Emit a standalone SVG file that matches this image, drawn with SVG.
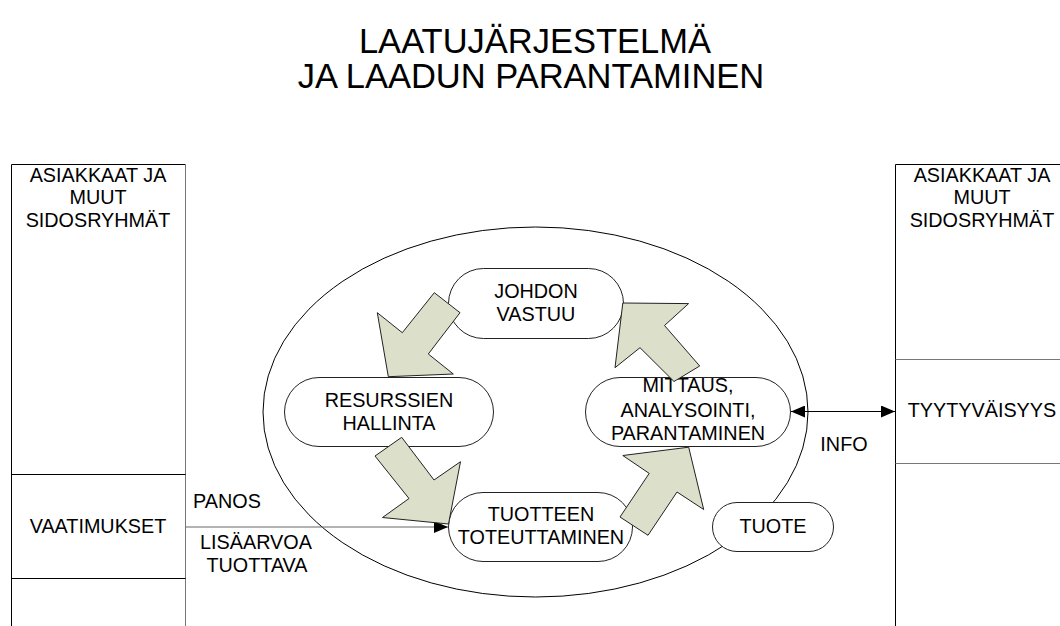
<svg xmlns="http://www.w3.org/2000/svg" width="1060" height="626" viewBox="0 0 1060 626">
  <style>
    .t { font-family: "Liberation Sans", Arial, sans-serif; font-size: 19.8px; fill: #000; text-anchor: middle; }
    .title { font-family: "Liberation Sans", Arial, sans-serif; font-size: 34.5px; fill: #000; text-anchor: middle; }
    .pill { fill: #fff; stroke: #222; stroke-width: 1; }
    .fat { fill: #dcdfca; stroke: #222; stroke-width: 1; stroke-linejoin: miter; }
    .edge { stroke: #000; stroke-width: 1; fill: none; }
    .gray { stroke: #777; stroke-width: 1; fill: none; }
  </style>
  <defs>
    <marker id="head" markerUnits="userSpaceOnUse" markerWidth="14" markerHeight="12" refX="14" refY="6" orient="auto-start-reverse">
      <path d="M0,0 L14,6 L0,12 z" fill="#000"/>
    </marker>
  </defs>
  <rect width="1060" height="626" fill="#fff"/>

  <g id="title">
    <text class="title" x="535" y="53">LAATUJÄRJESTELMÄ</text>
    <text class="title" x="531" y="88">JA LAADUN PARANTAMINEN</text>
  </g>

  <g id="left-stakeholders">
    <path class="edge" d="M11.5,640 V164.5 H185.5"/>
    <path class="gray" d="M185.5,164.5 V640"/>
    <text class="t" x="98" y="182">ASIAKKAAT JA</text>
    <text class="t" x="98" y="204">MUUT</text>
    <text class="t" x="98" y="227">SIDOSRYHMÄT</text>
  </g>
  <g id="vaatimukset">
    <path class="edge" d="M11.5,474.5 H185.5 M11.5,578.5 H185.5"/>
    <text class="t" x="98" y="533">VAATIMUKSET</text>
  </g>

  <g id="right-stakeholders">
    <path class="edge" d="M895.5,640 V164.5 H1060"/>
    <text class="t" x="982" y="182">ASIAKKAAT JA</text>
    <text class="t" x="982" y="204">MUUT</text>
    <text class="t" x="982" y="227">SIDOSRYHMÄT</text>
  </g>
  <g id="tyytyvaisyys">
    <path class="gray" d="M895.5,359.5 H1060 M895.5,463.5 H1060"/>
    <text class="t" x="982" y="417">TYYTYVÄISYYS</text>
  </g>

  <g id="system">
    <ellipse cx="535.5" cy="412" rx="272.5" ry="185" fill="none" stroke="#000" stroke-width="1"/>
  </g>

  <g id="johdon-vastuu">
    <rect class="pill" x="448.5" y="268.5" width="175" height="70" rx="35"/>
    <text class="t" x="536" y="298">JOHDON</text>
    <text class="t" x="536" y="321">VASTUU</text>
  </g>
  <g id="resurssien-hallinta">
    <rect class="pill" x="284.5" y="377.5" width="209" height="69" rx="34.5"/>
    <text class="t" x="389" y="407">RESURSSIEN</text>
    <text class="t" x="389" y="430">HALLINTA</text>
  </g>
  <g id="mittaus">
    <rect class="pill" x="585.5" y="377.5" width="205" height="69" rx="34.5"/>
    <text class="t" x="688" y="392">MITTAUS,</text>
    <text class="t" x="688" y="417">ANALYSOINTI,</text>
    <text class="t" x="688" y="440">PARANTAMINEN</text>
  </g>
  <g id="tuotteen-toteuttaminen">
    <rect class="pill" x="448.5" y="492.5" width="184" height="69" rx="34.5"/>
    <text class="t" x="541" y="521">TUOTTEEN</text>
    <text class="t" x="541" y="544">TOTEUTTAMINEN</text>
  </g>
  <g id="tuote">
    <rect class="pill" x="712.5" y="502.5" width="121" height="49" rx="24.5"/>
    <text class="t" x="773" y="533">TUOTE</text>
  </g>

  <g id="connectors">
    <line x1="185.5" y1="527" x2="448" y2="527" stroke="#666" stroke-width="1" marker-end="url(#head)"/>
    <line x1="791" y1="411.5" x2="895" y2="411.5" stroke="#000" stroke-width="1" marker-start="url(#head)" marker-end="url(#head)"/>
    <polygon class="fat" points="434.3,292.7 460,312.7 428.3,354 453.3,374 388.3,376.7 377.3,312.7 402.3,332.7"/>
    <polygon class="fat" points="375,456 401.7,437.3 434,480 460.5,461.7 448.5,524 382.5,517.5 409,498.5"/>
    <polygon class="fat" points="620,517 648,535.3 677,492 703.7,509.5 688.7,447.2 622.8,455.5 649.2,473.4"/>
    <polygon class="fat" points="699.7,366 674,381.5 640,347.7 615,367.7 622.8,303 688.6,303.6 664.5,325.5"/>
    <text class="t" x="227" y="508">PANOS</text>
    <text class="t" x="256" y="549">LISÄARVOA</text>
    <text class="t" x="257" y="572">TUOTTAVA</text>
    <text class="t" x="844" y="451">INFO</text>
  </g>
</svg>
